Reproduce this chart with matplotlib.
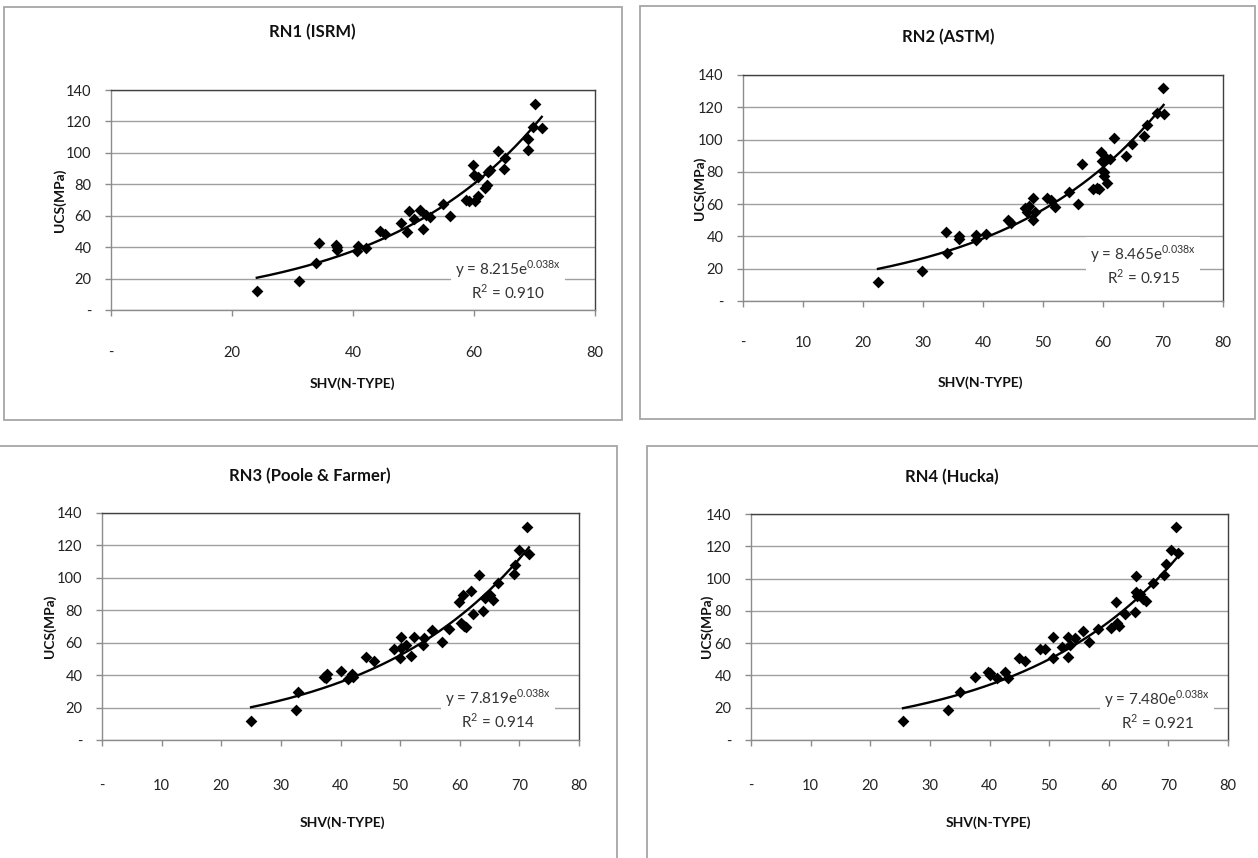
import numpy as np
import matplotlib
matplotlib.use("Agg")
import matplotlib.pyplot as plt
from matplotlib.patches import Rectangle
from matplotlib.ticker import FuncFormatter, MultipleLocator

plt.rcParams['font.family'] = ['Lato', 'DejaVu Sans']
plt.rcParams['mathtext.fontset'] = 'custom'
plt.rcParams['mathtext.rm'] = 'Lato'

W, H = 1258, 858

# data: SHV (x) and UCS in MPa (y)
shv_rn1 = [24.1, 31.1, 34.3, 33.9, 37.2, 37.4, 37.3, 40.7, 40.9, 42.2, 44.4, 45.3, 47.9, 49.0,
           49.3, 50.0, 51.0, 51.5, 52.1, 52.7, 54.9, 56.1, 58.7, 59.2, 59.9, 60.0, 60.2, 60.7,
           60.7, 61.9, 62.1, 62.3, 62.6, 64.0, 65.0, 65.1, 69.0, 69.0, 69.8, 70.1, 71.2]
ucs_rn1 = [12.3, 18.5, 42.4, 29.7, 41.4, 40.3, 38.2, 37.8, 40.7, 39.2, 50.3, 48.4, 55.6, 49.8,
           63.2, 57.7, 63.6, 51.5, 60.5, 59.0, 67.5, 59.8, 70.0, 69.6, 92.3, 85.9, 69.6, 84.8,
           72.5, 77.8, 79.5, 88.0, 89.1, 101.4, 89.5, 96.5, 108.6, 101.8, 116.7, 131.1, 115.6]

shv_rn2 = [22.5, 29.9, 33.9, 34.0, 36.0, 36.0, 38.9, 38.9, 40.5, 44.2, 44.6, 47.0, 47.3, 47.6,
           48.3, 48.3, 48.6, 50.7, 51.3, 52.0, 54.4, 55.9, 56.5, 58.4, 59.0, 59.3, 59.6, 59.8,
           60.1, 60.1, 60.5, 60.6, 61.1, 61.9, 63.9, 64.8, 66.9, 67.4, 69.0, 70.0, 70.1]
ucs_rn2 = [12.0, 18.6, 42.5, 29.9, 40.5, 38.2, 40.9, 37.8, 41.5, 50.2, 48.5, 57.4, 55.3, 58.8,
           63.6, 50.2, 55.3, 63.6, 62.6, 58.4, 67.7, 60.1, 84.7, 69.2, 69.8, 69.4, 92.5, 86.9,
           79.7, 77.4, 88.4, 72.9, 87.8, 101.2, 89.8, 97.3, 102.2, 109.0, 116.7, 131.7, 115.9]

shv_rn3 = [25.0, 32.6, 32.9, 37.3, 37.7, 37.5, 40.1, 41.3, 41.9, 42.1, 44.2, 45.6, 49.0, 49.9,
           50.2, 50.2, 51.0, 51.9, 52.3, 53.8, 54.0, 55.4, 57.1, 58.2, 59.9, 60.2, 60.5, 60.7,
           61.1, 61.9, 62.2, 63.2, 63.9, 64.2, 65.0, 65.5, 66.4, 69.1, 69.2, 69.9, 71.2, 71.6]
ucs_rn3 = [11.9, 18.5, 29.9, 39.1, 40.6, 38.1, 42.8, 37.7, 40.6, 39.1, 50.9, 49.0, 56.2, 50.4,
           63.4, 57.0, 58.7, 51.5, 63.4, 58.3, 62.8, 67.9, 60.7, 68.6, 85.4, 72.1, 89.6, 70.6,
           70.0, 92.2, 77.8, 101.5, 79.7, 87.5, 89.6, 86.5, 96.8, 102.3, 108.1, 117.4, 131.4, 114.9]

shv_rn4 = [25.5, 33.1, 35.0, 37.5, 39.8, 40.1, 40.0, 41.2, 42.6, 43.1, 45.0, 45.9, 48.4, 49.3,
           50.7, 50.7, 52.1, 53.2, 53.2, 53.5, 54.3, 55.7, 56.7, 58.2, 60.4, 61.2, 61.3, 61.8,
           62.7, 64.4, 64.5, 64.5, 64.7, 65.3, 65.8, 66.2, 67.4, 69.3, 69.6, 70.5, 71.3, 71.6]
ucs_rn4 = [11.8, 18.6, 29.5, 38.8, 42.3, 41.3, 40.3, 38.2, 41.9, 38.6, 51.0, 49.1, 56.4, 56.4,
           63.6, 50.6, 57.8, 64.0, 51.6, 58.8, 63.4, 67.7, 60.5, 68.8, 69.6, 85.3, 72.3, 70.8,
           77.8, 79.5, 101.8, 91.5, 89.4, 90.2, 87.4, 86.1, 97.1, 102.2, 108.8, 117.7, 131.7, 115.6]

titles = ["RN1 (ISRM)", "RN2 (ASTM)", "RN3 (Poole & Farmer)", "RN4 (Hucka)"]
coef_a = [8.215, 8.465, 7.819, 7.480]
coef_b = [0.038, 0.038, 0.038, 0.038]
r2 = ["0.910", "0.915", "0.914", "0.921"]
x_steps = [20, 10, 10, 10]

xs = [shv_rn1, shv_rn2, shv_rn3, shv_rn4]
ys = [ucs_rn1, ucs_rn2, ucs_rn3, ucs_rn4]

# layout in pixels: frame box, plot area, label positions
frames = [(4, 7, 622, 420), (640, 6, 1255, 419), (-2, 446, 617, 860), (647, 446, 1260, 860)]
plots = [(111, 90, 595, 310), (743, 75, 1223, 301), (102, 513, 579, 740), (751, 514, 1228, 740)]
title_pos = [(312, 32), (948, 37), (310, 476), (952, 477)]
ylab_pos = [(60, 200), (700, 188), (50, 626), (707, 626)]
xlab_pos = [(352, 384), (980, 383), (342, 823), (988, 823)]
eq_pos = [(65.6, 19.3), (66.7, 22.0), (66.4, 19.2), (68.1, 18.8)]
xpads = [22, 21, 24, 24]


def fx(px):
    return px / W


def fy(py):
    return 1 - py / H


def dash_zero(v, pos):
    return "-" if abs(v) < 1e-9 else f"{v:.0f}"


fig = plt.figure(figsize=(W / 100, H / 100), dpi=100)

for i in range(4):
    l, t, r, b = frames[i]
    fig.add_artist(Rectangle((fx(l), fy(b)), fx(r - l), (b - t) / H, transform=fig.transFigure,
                             fill=False, edgecolor="#a6a6a6", linewidth=1.3))

    l, t, r, b = plots[i]
    ax = fig.add_axes([fx(l), fy(b), fx(r - l), (b - t) / H])
    ax.set_xlim(0, 80)
    ax.set_ylim(0, 140)
    ax.xaxis.set_major_locator(MultipleLocator(x_steps[i]))
    ax.yaxis.set_major_locator(MultipleLocator(20))
    ax.xaxis.set_major_formatter(FuncFormatter(dash_zero))
    ax.yaxis.set_major_formatter(FuncFormatter(dash_zero))
    ax.grid(axis="y", color="#a0a0a0", linewidth=1.0)
    ax.set_axisbelow(True)
    for side in ["left", "bottom"]:
        ax.spines[side].set_color("#8c8c8c")
        ax.spines[side].set_linewidth(1.0)
    for side in ["top", "right"]:
        ax.spines[side].set_color("#404040")
        ax.spines[side].set_linewidth(1.0)
    ax.tick_params(axis="y", length=4, width=1, color="#8c8c8c", pad=10,
                   labelsize=10.5, labelcolor="#222222")
    ax.tick_params(axis="x", length=4, width=1, color="#8c8c8c", pad=xpads[i],
                   labelsize=10.5, labelcolor="#222222")

    ax.scatter(xs[i], ys[i], marker="D", s=36, color="black", zorder=3, linewidths=0)

    xx = np.linspace(min(xs[i]), max(xs[i]), 200)
    ax.plot(xx, coef_a[i] * np.exp(coef_b[i] * xx), color="black", linewidth=1.7, zorder=2)

    ax.text(eq_pos[i][0], eq_pos[i][1],
            f"y = {coef_a[i]:.3f}e$^{{\\mathrm{{{coef_b[i]:.3f}x}}}}$\nR$^{{\\mathrm{{2}}}}$ = {r2[i]}",
            ha="center", va="center", fontsize=11, color="#333333", linespacing=1.2,
            bbox=dict(facecolor="white", edgecolor="none", pad=3), zorder=4)

    fig.text(fx(title_pos[i][0]), fy(title_pos[i][1]), titles[i], ha="center", va="center",
             fontsize=12, fontweight="bold", color="#111111")
    fig.text(fx(ylab_pos[i][0]), fy(ylab_pos[i][1]), "UCS(MPa)", ha="center", va="center",
             rotation=90, fontsize=10, fontweight="bold", color="#111111")
    fig.text(fx(xlab_pos[i][0]), fy(xlab_pos[i][1]), "SHV(N-TYPE)", ha="center", va="center",
             fontsize=10, fontweight="bold", color="#111111")

fig.savefig("out.png", dpi=100, facecolor="white")
